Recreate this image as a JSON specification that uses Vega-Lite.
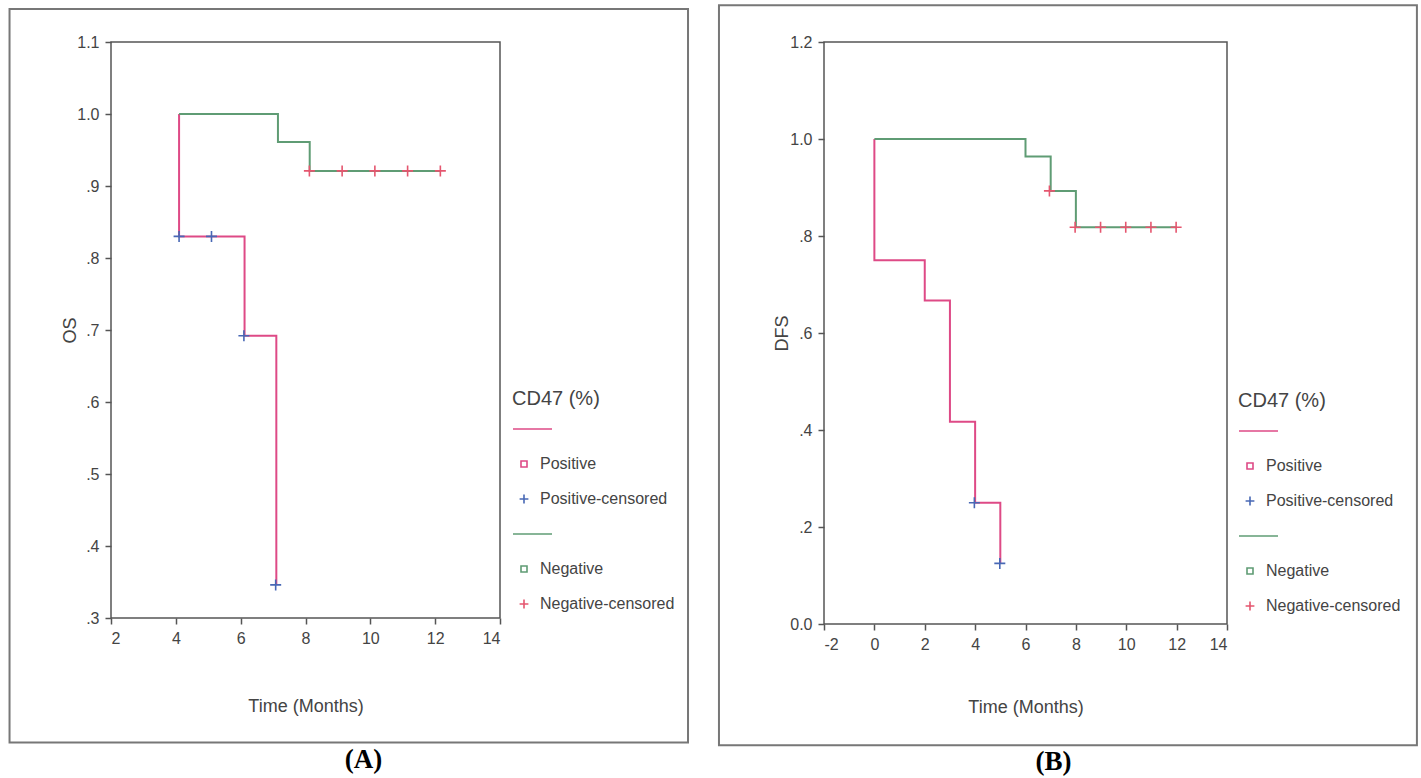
{
  "$schema": "https://vega.github.io/schema/vega-lite/v6.json",
  "background": "white",
  "padding": {"left": 7, "top": 3, "right": 4, "bottom": 0},
  "spacing": 27,
  "config": {
    "view": {"stroke": "#555", "strokeWidth": 1.5},
    "font": "Liberation Sans",
    "axis": {
      "domain": false, "grid": false,
      "tickColor": "#555", "tickSize": 6, "tickWidth": 1.5,
      "labelFont": "Liberation Sans", "labelFontSize": 16, "labelColor": "#444", "labelPadding": 6,
      "titleFont": "Liberation Sans", "titleFontSize": 18, "titleFontWeight": "normal", "titleColor": "#444"
    },
    "legend": {
      "titleFont": "Liberation Sans", "titleFontSize": 20, "titleFontWeight": "normal", "titleColor": "#444",
      "labelFont": "Liberation Sans", "labelFontSize": 16, "labelColor": "#444"
    },
    "title": {"font": "Liberation Serif", "fontSize": 27, "fontWeight": "bold", "color": "#000"}
  },
  "datasets": {
    "A": [
      {"i": 1, "kind": "curve", "series": "Positive", "t": 4.1, "s": 1.0},
      {"i": 2, "kind": "curve", "series": "Positive", "t": 4.1, "s": 0.83},
      {"i": 3, "kind": "curve", "series": "Positive", "t": 6.12, "s": 0.692},
      {"i": 4, "kind": "curve", "series": "Positive", "t": 7.1, "s": 0.346},
      {"i": 5, "kind": "curve", "series": "Negative", "t": 4.1, "s": 1.0},
      {"i": 6, "kind": "curve", "series": "Negative", "t": 7.15, "s": 0.961},
      {"i": 7, "kind": "curve", "series": "Negative", "t": 8.13, "s": 0.921},
      {"i": 8, "kind": "curve", "series": "Negative", "t": 12.16, "s": 0.921},
      {"i": 9, "kind": "censor", "series": "Positive-censored", "t": 4.1, "s": 0.83},
      {"i": 10, "kind": "censor", "series": "Positive-censored", "t": 5.1, "s": 0.83},
      {"i": 11, "kind": "censor", "series": "Positive-censored", "t": 6.1, "s": 0.692},
      {"i": 12, "kind": "censor", "series": "Positive-censored", "t": 7.08, "s": 0.346},
      {"i": 13, "kind": "censor", "series": "Negative-censored", "t": 8.12, "s": 0.921},
      {"i": 14, "kind": "censor", "series": "Negative-censored", "t": 9.13, "s": 0.921},
      {"i": 15, "kind": "censor", "series": "Negative-censored", "t": 10.14, "s": 0.921},
      {"i": 16, "kind": "censor", "series": "Negative-censored", "t": 11.15, "s": 0.921},
      {"i": 17, "kind": "censor", "series": "Negative-censored", "t": 12.16, "s": 0.921}
    ],
    "B": [
      {"i": 1, "kind": "curve", "series": "Positive", "t": 0, "s": 1.0},
      {"i": 2, "kind": "curve", "series": "Positive", "t": 0, "s": 0.75},
      {"i": 3, "kind": "curve", "series": "Positive", "t": 2, "s": 0.667},
      {"i": 4, "kind": "curve", "series": "Positive", "t": 3, "s": 0.417},
      {"i": 5, "kind": "curve", "series": "Positive", "t": 4, "s": 0.25},
      {"i": 6, "kind": "curve", "series": "Positive", "t": 5, "s": 0.125},
      {"i": 7, "kind": "curve", "series": "Negative", "t": 0, "s": 1.0},
      {"i": 8, "kind": "curve", "series": "Negative", "t": 6, "s": 0.964},
      {"i": 9, "kind": "curve", "series": "Negative", "t": 7, "s": 0.893},
      {"i": 10, "kind": "curve", "series": "Negative", "t": 8, "s": 0.818},
      {"i": 11, "kind": "curve", "series": "Negative", "t": 12, "s": 0.818},
      {"i": 12, "kind": "censor", "series": "Positive-censored", "t": 3.97, "s": 0.25},
      {"i": 13, "kind": "censor", "series": "Positive-censored", "t": 4.98, "s": 0.125},
      {"i": 14, "kind": "censor", "series": "Negative-censored", "t": 6.95, "s": 0.893},
      {"i": 15, "kind": "censor", "series": "Negative-censored", "t": 7.97, "s": 0.818},
      {"i": 16, "kind": "censor", "series": "Negative-censored", "t": 8.98, "s": 0.818},
      {"i": 17, "kind": "censor", "series": "Negative-censored", "t": 9.98, "s": 0.818},
      {"i": 18, "kind": "censor", "series": "Negative-censored", "t": 10.98, "s": 0.818},
      {"i": 19, "kind": "censor", "series": "Negative-censored", "t": 11.98, "s": 0.818}
    ]
  },
  "resolve": {
    "scale": {"color": "independent", "shape": "independent", "x": "independent", "y": "independent"},
    "legend": {"color": "independent", "shape": "independent"}
  },
  "hconcat": [
    {
      "width": 389,
      "height": 576,
      "title": {"text": "(A)", "orient": "bottom", "dx": 58, "offset": 3},
      "data": {"name": "A"},
      "layer": [
        {
          "data": {"values": [{}]},
          "mark": {"type": "rect", "filled": false, "stroke": "#777", "strokeWidth": 2, "clip": false},
          "encoding": {
            "x": {"datum": -1.13, "type": "quantitative"},
            "x2": {"datum": 19.8},
            "y": {"datum": 1.146, "type": "quantitative"},
            "y2": {"datum": 0.127}
          }
        },
        {
          "transform": [{"filter": "datum.kind == 'curve'"}],
          "mark": {"type": "line", "interpolate": "step-after", "strokeWidth": 2},
          "encoding": {
            "x": {"field": "t", "type": "quantitative",
                  "scale": {"domain": [2, 14], "nice": false, "zero": false},
                  "axis": {"title": "Time (Months)", "values": [2, 4, 6, 8, 10, 12, 14], "titlePadding": 51, "labelExpr": "toString(datum.value)"}},
            "y": {"field": "s", "type": "quantitative",
                  "scale": {"domain": [0.3, 1.1], "nice": false, "zero": false},
                  "axis": {"title": "OS", "values": [0.3, 0.4, 0.5, 0.6, 0.7, 0.8, 0.9, 1.0, 1.1], "titlePadding": -3,
                           "labelExpr": "datum.value > 0 && datum.value < 1 ? replace(format(datum.value, '.1f'), '0.', '.') : format(datum.value, '.1f')"}},
            "order": {"field": "i", "type": "quantitative"},
            "color": {
              "field": "series", "type": "nominal",
              "scale": {
                "domain": ["~P", "Positive", "Positive-censored", "~N", "Negative", "Negative-censored"],
                "range": ["#de4a86", "#de4a86", "#4868b5", "#5f9c74", "#5f9c74", "#e5566f"]
              },
              "legend": {
                "title": "CD47 (%)", "orient": "none", "legendX": 401, "legendY": 347,
                "labelExpr": "indexof(datum.label, '~') == 0 ? '' : datum.label",
                "symbolSize": 64, "symbolStrokeWidth": 1.6, "symbolFillColor": "transparent",
                "rowPadding": 19, "labelOffset": 8, "symbolOffset": 4, "titlePadding": 12
              }
            }
          }
        },
        {
          "transform": [{"filter": "datum.kind == 'censor'"}],
          "mark": {"type": "point", "filled": false, "size": 100, "strokeWidth": 1.6, "opacity": 1},
          "encoding": {
            "x": {"field": "t", "type": "quantitative"},
            "y": {"field": "s", "type": "quantitative"},
            "color": {
              "field": "series", "type": "nominal",
              "legend": {
                "title": "CD47 (%)", "orient": "none", "legendX": 401, "legendY": 347,
                "labelExpr": "indexof(datum.label, '~') == 0 ? '' : datum.label",
                "symbolSize": 64, "symbolStrokeWidth": 1.6, "symbolFillColor": "transparent",
                "rowPadding": 19, "labelOffset": 8, "symbolOffset": 4, "titlePadding": 12
              }
            },
            "shape": {
              "field": "series", "type": "nominal",
              "scale": {
                "domain": ["~P", "Positive", "Positive-censored", "~N", "Negative", "Negative-censored"],
                "range": ["M-2.75,0H7", "M-0.75,-0.75H0.75V0.75H-0.75Z", "M-1.1,0H1.1M0,-1.1V1.1", "M-2.75,0H7", "M-0.75,-0.75H0.75V0.75H-0.75Z", "M-1.1,0H1.1M0,-1.1V1.1"]
              },
              "legend": {
                "title": "CD47 (%)", "orient": "none", "legendX": 401, "legendY": 347,
                "labelExpr": "indexof(datum.label, '~') == 0 ? '' : datum.label",
                "symbolSize": 64, "symbolStrokeWidth": 1.6, "symbolFillColor": "transparent",
                "rowPadding": 19, "labelOffset": 8, "symbolOffset": 4, "titlePadding": 12
              }
            }
          }
        }
      ]
    },
    {
      "width": 403,
      "height": 582,
      "title": {"text": "(B)", "orient": "bottom", "dx": 28, "offset": 3},
      "data": {"name": "B"},
      "layer": [
        {
          "data": {"values": [{}]},
          "mark": {"type": "rect", "filled": false, "stroke": "#777", "strokeWidth": 2, "clip": false},
          "encoding": {
            "x": {"datum": -6.17, "type": "quantitative"},
            "x2": {"datum": 21.54},
            "y": {"datum": 1.276, "type": "quantitative"},
            "y2": {"datum": -0.25}
          }
        },
        {
          "transform": [{"filter": "datum.kind == 'curve'"}],
          "mark": {"type": "line", "interpolate": "step-after", "strokeWidth": 2},
          "encoding": {
            "x": {"field": "t", "type": "quantitative",
                  "scale": {"domain": [-2, 14], "nice": false, "zero": false},
                  "axis": {"title": "Time (Months)", "values": [-2, 0, 2, 4, 6, 8, 10, 12, 14], "titlePadding": 46, "labelExpr": "toString(datum.value)"}},
            "y": {"field": "s", "type": "quantitative",
                  "scale": {"domain": [0, 1.2], "nice": false, "zero": false},
                  "axis": {"title": "DFS", "values": [0, 0.2, 0.4, 0.6, 0.8, 1.0, 1.2], "titlePadding": -2,
                           "labelExpr": "datum.value > 0 && datum.value < 1 ? replace(format(datum.value, '.1f'), '0.', '.') : format(datum.value, '.1f')"}},
            "order": {"field": "i", "type": "quantitative"},
            "color": {
              "field": "series", "type": "nominal",
              "scale": {
                "domain": ["~P", "Positive", "Positive-censored", "~N", "Negative", "Negative-censored"],
                "range": ["#de4a86", "#de4a86", "#4868b5", "#5f9c74", "#5f9c74", "#e5566f"]
              },
              "legend": {
                "title": "CD47 (%)", "orient": "none", "legendX": 414, "legendY": 349,
                "labelExpr": "indexof(datum.label, '~') == 0 ? '' : datum.label",
                "symbolSize": 64, "symbolStrokeWidth": 1.6, "symbolFillColor": "transparent",
                "rowPadding": 19, "labelOffset": 8, "symbolOffset": 4, "titlePadding": 12
              }
            }
          }
        },
        {
          "transform": [{"filter": "datum.kind == 'censor'"}],
          "mark": {"type": "point", "filled": false, "size": 100, "strokeWidth": 1.6, "opacity": 1},
          "encoding": {
            "x": {"field": "t", "type": "quantitative"},
            "y": {"field": "s", "type": "quantitative"},
            "color": {
              "field": "series", "type": "nominal",
              "legend": {
                "title": "CD47 (%)", "orient": "none", "legendX": 414, "legendY": 349,
                "labelExpr": "indexof(datum.label, '~') == 0 ? '' : datum.label",
                "symbolSize": 64, "symbolStrokeWidth": 1.6, "symbolFillColor": "transparent",
                "rowPadding": 19, "labelOffset": 8, "symbolOffset": 4, "titlePadding": 12
              }
            },
            "shape": {
              "field": "series", "type": "nominal",
              "scale": {
                "domain": ["~P", "Positive", "Positive-censored", "~N", "Negative", "Negative-censored"],
                "range": ["M-2.75,0H7", "M-0.75,-0.75H0.75V0.75H-0.75Z", "M-1.1,0H1.1M0,-1.1V1.1", "M-2.75,0H7", "M-0.75,-0.75H0.75V0.75H-0.75Z", "M-1.1,0H1.1M0,-1.1V1.1"]
              },
              "legend": {
                "title": "CD47 (%)", "orient": "none", "legendX": 414, "legendY": 349,
                "labelExpr": "indexof(datum.label, '~') == 0 ? '' : datum.label",
                "symbolSize": 64, "symbolStrokeWidth": 1.6, "symbolFillColor": "transparent",
                "rowPadding": 19, "labelOffset": 8, "symbolOffset": 4, "titlePadding": 12
              }
            }
          }
        }
      ]
    }
  ]
}
